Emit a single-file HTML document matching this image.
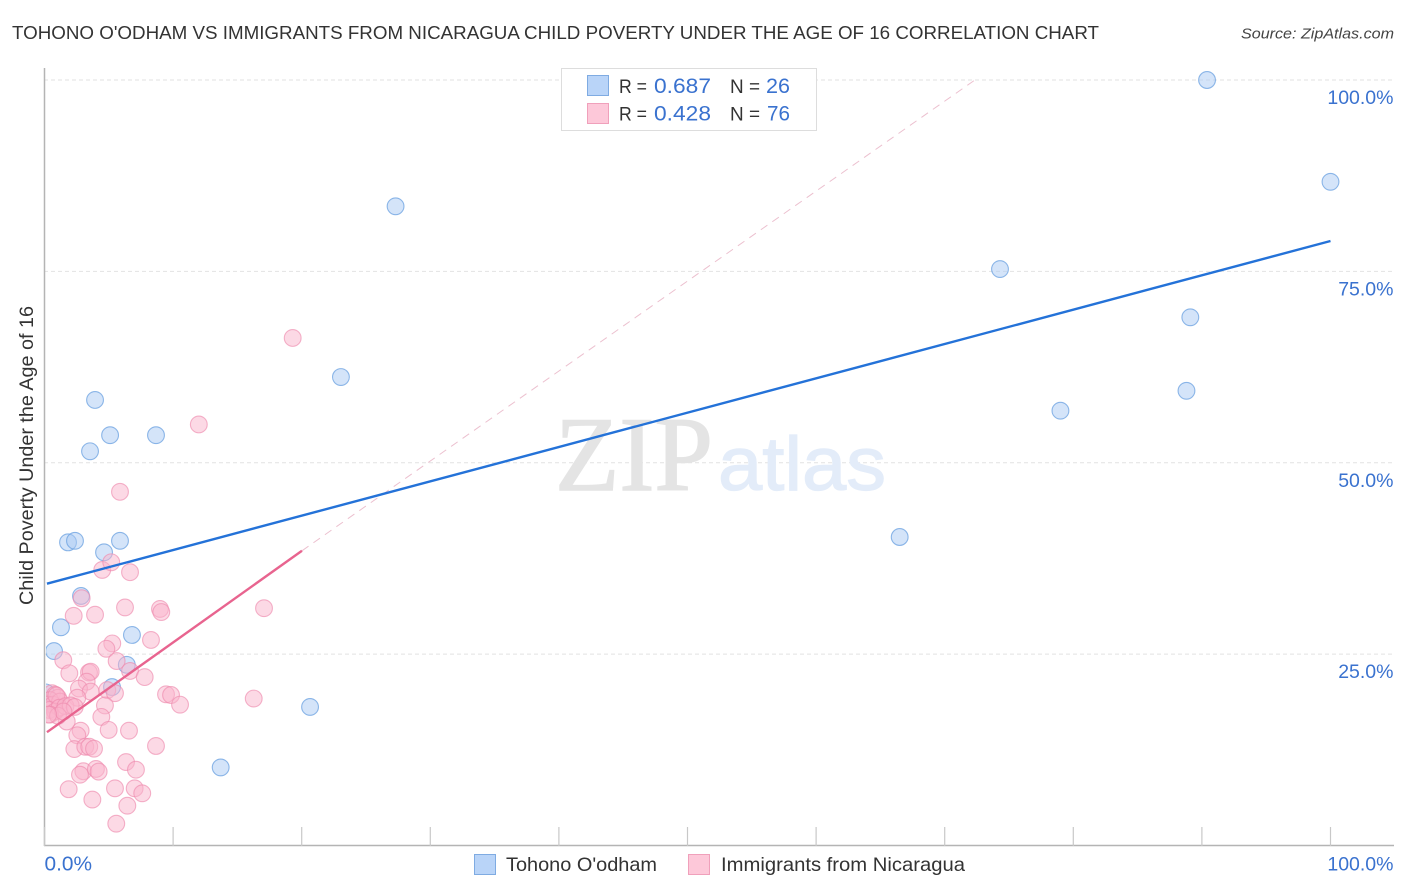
<!DOCTYPE html>
<html lang="en">
<head>
<meta charset="utf-8">
<title>Child Poverty Correlation Chart</title>
<style>
html,body{margin:0;padding:0;background:#fff;}
svg{display:block;font-family:"Liberation Sans",sans-serif;}
</style>
</head>
<body>
<svg id="chart" xmlns="http://www.w3.org/2000/svg" width="1406" height="892" viewBox="0 0 1406 892">
  <defs>
    <clipPath id="plot-clip"><rect x="46" y="60" width="1348" height="786"/></clipPath>
  </defs>
  <rect x="0" y="0" width="1406" height="892" fill="#ffffff"/>
  <text x="12" y="39" font-size="18.5" fill="#333" textLength="1087" lengthAdjust="spacingAndGlyphs">TOHONO O'ODHAM VS IMMIGRANTS FROM NICARAGUA CHILD POVERTY UNDER THE AGE OF 16 CORRELATION CHART</text>
  <text x="1241" y="38.500" font-size="15" font-style="italic" fill="#444" textLength="153" lengthAdjust="spacingAndGlyphs">Source: ZipAtlas.com</text>
  <g id="grid"></g>
  <g>
    <text x="555" y="490" font-family="'Liberation Serif',serif" font-size="106" fill="#e4e4e4" stroke="#e4e4e4" stroke-width="1.500" textLength="158" lengthAdjust="spacingAndGlyphs">ZIP</text>
    <text x="718" y="490" font-size="76" fill="#e3ecf9" stroke="#e3ecf9" stroke-width="1.200" textLength="168" lengthAdjust="spacingAndGlyphs">atlas</text>
  </g>
  <g id="axes"></g>
  <g id="marks" clip-path="url(#plot-clip)"></g>
  <text transform="translate(33,605) rotate(-90)" font-size="19" fill="#333" textLength="299" lengthAdjust="spacingAndGlyphs">Child Poverty Under the Age of 16</text>

  <g>
    <rect x="561.500" y="68.500" width="255" height="62" fill="#ffffff" stroke="#dddddd" stroke-width="1"/>
    <rect x="587.500" y="75.500" width="21" height="20" fill="#b9d4f8" stroke="#7fabe2" stroke-width="1"/>
    <text x="619" y="93" font-size="19.500" fill="#333" textLength="28" lengthAdjust="spacingAndGlyphs">R =</text>
    <text x="654" y="93" font-size="21" fill="#3a72cf" textLength="57" lengthAdjust="spacingAndGlyphs">0.687</text>
    <text x="730" y="93" font-size="19.500" fill="#333" textLength="30" lengthAdjust="spacingAndGlyphs">N =</text>
    <text x="766" y="93" font-size="21" fill="#3a72cf" textLength="24" lengthAdjust="spacingAndGlyphs">26</text>
    <rect x="587.500" y="103.500" width="21" height="20" fill="#fdc8d9" stroke="#f0a0bb" stroke-width="1"/>
    <text x="619" y="120.500" font-size="19.500" fill="#333" textLength="28" lengthAdjust="spacingAndGlyphs">R =</text>
    <text x="654" y="120.500" font-size="21" fill="#3a72cf" textLength="57" lengthAdjust="spacingAndGlyphs">0.428</text>
    <text x="730" y="120.500" font-size="19.500" fill="#333" textLength="30" lengthAdjust="spacingAndGlyphs">N =</text>
    <text x="767" y="120.500" font-size="21" fill="#3a72cf" textLength="23" lengthAdjust="spacingAndGlyphs">76</text>
  </g>

  <g>
    <rect x="474.500" y="854.500" width="21" height="20" fill="#b9d4f8" stroke="#7fabe2" stroke-width="1"/>
    <text x="506" y="871" font-size="19.500" fill="#333" textLength="151" lengthAdjust="spacingAndGlyphs">Tohono O'odham</text>
    <rect x="688.500" y="854.500" width="21" height="20" fill="#fdc8d9" stroke="#f0a0bb" stroke-width="1"/>
    <text x="721" y="871" font-size="19.500" fill="#333" textLength="244" lengthAdjust="spacingAndGlyphs">Immigrants from Nicaragua</text>
  </g>
</svg>
<script>
var xTickValues = [0, 10, 20, 30, 40, 50, 60, 70, 80, 90, 100];
var yGridValues = [100, 75, 50, 25];
var yTickLabels = ['100.0%', '75.0%', '50.0%', '25.0%'];
var xEndLabels = ['0.0%', '100.0%'];

var tohonoX = [90.4, 100, 27.3, 74.3, 89.1, 23.05, 88.8, 79.0, 3.93, 5.1, 8.67, 3.54, 66.5, 1.83, 2.37, 5.87, 4.63, 2.84, 1.28, 6.8, 0.74, 6.4, 5.25, 0.1, 20.65, 13.7];
var tohonoY = [100, 86.7, 83.5, 75.3, 69.0, 61.2, 59.4, 56.8, 58.2, 53.6, 53.6, 51.5, 40.3, 39.6, 39.8, 39.8, 38.3, 32.6, 28.5, 27.5, 25.4, 23.6, 20.7, 20.0, 18.1, 10.2];

var nicaraguaX = [17.07, 12.0, 19.3, 5.87, 4.49, 5.19, 6.65, 2.89, 2.27, 3.93, 6.26, 8.98, 9.08, 8.28, 5.27, 4.81, 1.46, 5.61, 6.65, 1.93, 3.46, 3.59, 7.79, 3.28, 2.68, 3.59, 4.88, 5.48, 9.45, 9.84, 10.54, 16.27, 4.70, 4.42, 2.55, 1.73, 2.81, 4.99, 6.57, 2.55, 2.32, 3.17, 3.48, 3.85, 8.67, 6.34, 7.11, 3.02, 2.76, 4.0, 4.21, 1.88, 5.48, 7.01, 7.6, 3.72, 6.44, 5.58, 0.58, 0.82, 1.05, 0.43, 0.22, 0.66, 1.21, 0.92, 0.37, 0.82, 1.16, 1.63, 2.04, 2.35, 0.43, 1.05, 1.47, 0.29];
var nicaraguaY = [31.0, 55.0, 66.3, 46.2, 36.0, 37.0, 35.7, 32.3, 30.0, 30.15, 31.1, 30.9, 30.5, 26.85, 26.4, 25.7, 24.2, 24.1, 22.8, 22.5, 22.6, 22.7, 22.0, 21.4, 20.5, 20.1, 20.3, 19.9, 19.75, 19.66, 18.4, 19.2, 18.3, 16.8, 19.3, 16.2, 15.0, 15.1, 15.0, 14.4, 12.6, 12.9, 12.9, 12.65, 13.0, 10.9, 9.9, 9.7, 9.25, 10.0, 9.65, 7.35, 7.47, 7.47, 6.82, 6.0, 5.2, 2.85, 19.9, 19.7, 19.3, 19.0, 18.4, 18.4, 18.8, 19.6, 17.7, 17.5, 18.0, 18.2, 18.3, 18.1, 17.1, 16.95, 17.5, 17.1];

var tohonoTrendX = [0.19, 100];
var tohonoTrendY = [34.2, 78.97];
var nicaraguaTrendX = [0.19, 20.02];
var nicaraguaTrendY = [14.8, 38.5];
var nicaraguaDashX = [20.02, 72.35];
var nicaraguaDashY = [38.5, 100];

var NS = 'http://www.w3.org/2000/svg';
function xScale(v) { return 44.5 + v * 12.86; }
function yScale(v) { return 845.5 - v * 7.655; }
function make(tag, attrs, parent, text) {
  var el = document.createElementNS(NS, tag);
  for (var k in attrs) { el.setAttribute(k, attrs[k]); }
  if (text !== undefined) { el.textContent = text; }
  parent.appendChild(el);
  return el;
}

var gridGroup = document.getElementById('grid');
var axesGroup = document.getElementById('axes');
var marksGroup = document.getElementById('marks');

yGridValues.forEach(function (v, i) {
  var line = make('line', {x1: 44, x2: 1394, y1: yScale(v), y2: yScale(v), stroke: '#e2e2e2', 'stroke-width': 1, 'stroke-dasharray': '4 3'}, gridGroup);
  
  
  var label = make('text', {x: 1393.5, y: yScale(v) + 24, 'text-anchor': 'end', 'font-size': 19.5, fill: '#3a72cf'}, axesGroup, yTickLabels[i]);
  
  
});

var yAxisLine = make('line', {x1: 44.5, x2: 44.5, y1: 68, y2: 846, stroke: '#b4b4b4', 'stroke-width': 1.5}, axesGroup);


var xAxisLine = make('line', {x1: 44, x2: 1394, y1: 845.5, y2: 845.5, stroke: '#b4b4b4', 'stroke-width': 1.5}, axesGroup);



xTickValues.forEach(function (v) {
  var tick = make('line', {x1: xScale(v), x2: xScale(v), y1: 827, y2: 846, stroke: '#c8c8c8', 'stroke-width': 1.2}, axesGroup);
  
  
});

var xStartLabel = make('text', {x: 44.5, y: 870.5, 'font-size': 20, fill: '#3a72cf', textLength: 47.5, lengthAdjust: 'spacingAndGlyphs'}, axesGroup, xEndLabels[0]);


var xEndLabel = make('text', {x: 1393.5, y: 870.5, 'text-anchor': 'end', 'font-size': 19.5, fill: '#3a72cf'}, axesGroup, xEndLabels[1]);



tohonoX.forEach(function (v, i) {
  var c = make('circle', {cx: xScale(v), cy: yScale(tohonoY[i]), r: 8.4, fill: '#a9c9f3', 'fill-opacity': 0.5, stroke: '#6aa0e0', 'stroke-opacity': 0.75, 'stroke-width': 1.1}, marksGroup);
  
  
});

nicaraguaX.forEach(function (v, i) {
  var c = make('circle', {cx: xScale(v), cy: yScale(nicaraguaY[i]), r: 8.4, fill: '#fab4cb', 'fill-opacity': 0.5, stroke: '#ee8aad', 'stroke-opacity': 0.65, 'stroke-width': 1.1}, marksGroup);
  
  
});

var dashLine = make('line', {x1: xScale(nicaraguaDashX[0]), x2: xScale(nicaraguaDashX[1]), y1: yScale(nicaraguaDashY[0]), y2: yScale(nicaraguaDashY[1]), stroke: '#ecc0cf', 'stroke-width': 1, 'stroke-dasharray': '8 6'}, marksGroup);



var nicaraguaLine = make('line', {x1: xScale(nicaraguaTrendX[0]), x2: xScale(nicaraguaTrendX[1]), y1: yScale(nicaraguaTrendY[0]), y2: yScale(nicaraguaTrendY[1]), stroke: '#e8648f', 'stroke-width': 2.4}, marksGroup);



var tohonoLine = make('line', {x1: xScale(tohonoTrendX[0]), x2: xScale(tohonoTrendX[1]), y1: yScale(tohonoTrendY[0]), y2: yScale(tohonoTrendY[1]), stroke: '#2472d8', 'stroke-width': 2.4}, marksGroup);


</script>
</body>
</html>
